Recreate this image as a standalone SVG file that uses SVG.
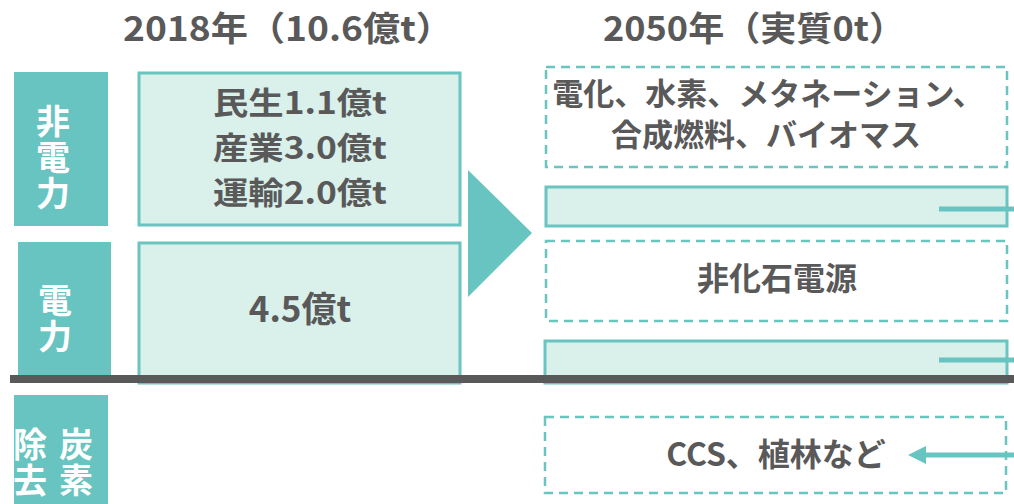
<svg xmlns="http://www.w3.org/2000/svg" width="1014" height="504" viewBox="0 0 1014 504">
<style>
text{font-family:"Noto Sans CJK JP","Noto Sans",sans-serif;font-weight:bold}
.hd{font-size:34px;fill:#595959;text-anchor:middle}
.lbl{font-size:34px;fill:#ffffff;writing-mode:vertical-rl;letter-spacing:2px}
.val{font-size:35px;fill:#595959;text-anchor:middle}
.val3{font-size:31px;fill:#595959;text-anchor:middle}
.rt{font-size:31px;fill:#595959;text-anchor:middle}
.side{fill:#67c4c0}
.solid{fill:#daf0eb;stroke:#6ac4c0;stroke-width:3}
.dash{fill:none;stroke:#6ac4c0;stroke-width:2.5;stroke-dasharray:9,6}
.bar{stroke:#67c4c0;stroke-width:5;fill:none}
</style>
<g id="headers">
<text class="hd" x="288" y="41" textLength="330" lengthAdjust="spacingAndGlyphs">2018年（10.6億t）</text>
<text class="hd" x="754" y="41" textLength="302" lengthAdjust="spacingAndGlyphs">2050年（実質0t）</text>
</g>
<g id="label-hidenryoku">
<rect class="side" x="14" y="72" width="94" height="154"/>
<text class="lbl" x="53" y="104">非電力</text>
</g>
<g id="label-denryoku">
<rect class="side" x="18" y="242" width="93" height="134"/>
<text class="lbl" x="55" y="283">電力</text>
</g>
<g id="label-jokyo">
<rect class="side" x="14" y="395" width="94" height="109"/>
<text class="lbl" x="76" y="427">炭素</text>
<text class="lbl" x="30" y="427">除去</text>
</g>
<g id="box-2018-hidenryoku">
<rect class="solid" x="139" y="73" width="321" height="152"/>
<text class="val3" x="300" y="114" textLength="174" lengthAdjust="spacingAndGlyphs">民生1.1億t</text>
<text class="val3" x="300" y="159" textLength="174" lengthAdjust="spacingAndGlyphs">産業3.0億t</text>
<text class="val3" x="300" y="204" textLength="174" lengthAdjust="spacingAndGlyphs">運輸2.0億t</text>
</g>
<g id="box-2018-denryoku">
<rect class="solid" x="139" y="243" width="321" height="140"/>
<text class="val" x="300" y="322">4.5億t</text>
</g>
<g id="transition-arrow">
<polygon points="468,170 532,233 468,297" fill="#67c4c0"/>
</g>
<g id="box-2050-alt">
<rect class="dash" x="546" y="67" width="461" height="100"/>
<text class="rt"><tspan x="768" y="105">電化、水素、メタネーション、</tspan><tspan x="766" y="146">合成燃料、バイオマス</tspan></text>
</g>
<g id="box-2050-remain1">
<rect class="solid" x="546" y="187" width="461" height="39"/>
</g>
<g id="box-2050-nonfossil">
<rect class="dash" x="546" y="241" width="461" height="80"/>
<text class="rt" x="777" y="290" style="font-size:32px">非化石電源</text>
</g>
<g id="box-2050-remain2">
<rect class="solid" x="545" y="341" width="462" height="42"/>
</g>
<g id="box-ccs">
<rect class="dash" x="545" y="417" width="461" height="76"/>
<text class="rt" x="776" y="466" style="font-size:32px">CCS、植林など</text>
</g>
<g id="connectors">
<line class="bar" x1="939" y1="209" x2="1014" y2="209"/>
<line class="bar" x1="939" y1="360" x2="1014" y2="360"/>
<line x1="1014" y1="455" x2="924" y2="455" stroke="#67c4c0" stroke-width="5"/>
<polygon points="908,455 926,446 926,464" fill="#67c4c0"/>
</g>
<rect id="baseline" x="10" y="375" width="1004" height="8" fill="#595959"/>
</svg>
